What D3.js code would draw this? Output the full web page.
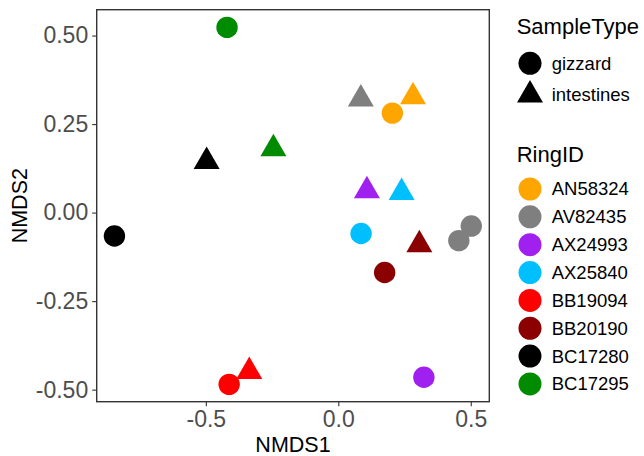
<!DOCTYPE html>
<html><head><meta charset="utf-8">
<script src="https://cdn.jsdelivr.net/npm/d3@7"></script>
<style>body{margin:0;background:#fff}text{font-family:"Liberation Sans",Arial,sans-serif}</style>
</head><body>
<svg id="c" width="644" height="456"></svg>
<script>
const ringIDs = ["AN58324","AV82435","AX24993","AX25840","BB19094","BB20190","BC17280","BC17295"];
const ringColors = ["#FFA500","#7F7F7F","#A020F0","#00BFFF","#FF0000","#8B0000","#000000","#008B00"];
const sampleTypes = ["gizzard","intestines"];
const pointRing = ["BC17295","BC17295","BC17280","BC17280","BB19094","BB19094","AV82435","AV82435","AV82435","AN58324","AN58324","AX24993","AX24993","AX25840","AX25840","BB20190","BB20190"];
const pointType = ["gizzard","intestines","intestines","gizzard","gizzard","intestines","intestines","gizzard","gizzard","intestines","gizzard","intestines","gizzard","intestines","gizzard","intestines","gizzard"];
const nmds1 = [-0.420,-0.245,-0.497,-0.845,-0.412,-0.336,0.085,0.502,0.455,0.282,0.204,0.108,0.323,0.239,0.086,0.306,0.175];
const nmds2 = [0.523,0.180,0.144,-0.066,-0.485,-0.449,0.321,-0.038,-0.079,0.327,0.281,0.062,-0.465,0.057,-0.059,-0.091,-0.169];
const xTicks = [-0.5,0.0,0.5];
const yTicks = [-0.50,-0.25,0.00,0.25,0.50];

const svg = d3.select("#c");
const L=96.7,R=489.3,T=9.7,B=401.7;
const x = d3.scaleLinear().domain([-0.912,0.570]).range([L,R]);
const y = d3.scaleLinear().domain([-0.534,0.573]).range([B,T]);
const color = d3.scaleOrdinal().domain(ringIDs).range(ringColors);
const CR=10.7, TR=15;
function tri(r){const h=r*Math.sqrt(3)/2;return `M0,${-r}L${h},${r/2}L${-h},${r/2}Z`;}
const fmt = p => d => d.toFixed(p);

const xa = svg.append("g").attr("transform",`translate(0,${B})`)
  .call(d3.axisBottom(x).tickValues(xTicks).tickFormat(fmt(1)).tickSize(4.5).tickPadding(4));
const ya = svg.append("g").attr("transform",`translate(${L},0)`)
  .call(d3.axisLeft(y).tickValues(yTicks).tickFormat(fmt(2)).tickSize(4.5).tickPadding(4));
[xa,ya].forEach(a=>{a.select(".domain").remove();
  a.selectAll(".tick line").attr("stroke","#333").attr("stroke-width",1.1);
  a.selectAll(".tick text").attr("fill","#4D4D4D").style("font-size","23px").style("font-family","Liberation Sans, Arial, sans-serif");});
xa.selectAll(".tick text").attr("dy","0.75em");

const pts = svg.append("g");
nmds1.forEach((v,i)=>{
  const g = pts.append("g").attr("transform",`translate(${x(v)},${y(nmds2[i])})`);
  if(pointType[i]==="gizzard") g.append("circle").attr("r",CR).attr("fill",color(pointRing[i]));
  else g.append("path").attr("d",tri(TR)).attr("fill",color(pointRing[i]));
});
svg.append("rect").attr("x",L).attr("y",T).attr("width",R-L).attr("height",B-T)
  .attr("fill","none").attr("stroke","#333").attr("stroke-width",1.4);

svg.append("text").attr("x",(L+R)/2).attr("y",451.5).attr("text-anchor","middle")
  .style("font-size","21.5px").text("NMDS1");
svg.append("text").attr("transform",`translate(27.3,${(T+B)/2}) rotate(-90)`).attr("text-anchor","middle")
  .style("font-size","21.5px").text("NMDS2");

const lg = svg.append("g");
lg.append("text").attr("x",516.7).attr("y",34.3).style("font-size","22px").text("SampleType");
const typeY=[63.3,95];
sampleTypes.forEach((t,i)=>{
  const g=lg.append("g").attr("transform",`translate(530,${typeY[i]})`);
  if(t==="gizzard") g.append("circle").attr("r",11.5).attr("fill","#000");
  else g.append("path").attr("d",tri(TR)).attr("fill","#000");
  lg.append("text").attr("x",551.7).attr("y",typeY[i]).attr("dy","0.35em").style("font-size","18.5px").text(t);
});
lg.append("text").attr("x",516.7).attr("y",161.7).style("font-size","22px").text("RingID");
ringIDs.forEach((r,i)=>{
  const cy=189+i*27.85;
  lg.append("circle").attr("cx",530).attr("cy",cy).attr("r",11.5).attr("fill",color(r));
  lg.append("text").attr("x",551.7).attr("y",cy).attr("dy","0.35em").style("font-size","18.5px").text(r);
});
</script>
</body></html>
